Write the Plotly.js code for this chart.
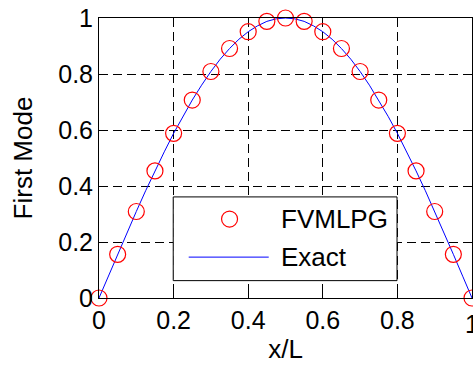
<!DOCTYPE html>
<html>
<head>
<meta charset="utf-8">
<script src="https://cdn.plot.ly/plotly-3.0.1.min.js"></script>
<style>html,body{margin:0;padding:0;background:#fff;}#chart{width:473px;height:367px;}</style>
</head>
<body>
<div id="chart"></div>
<script>
// FVMLPG markers
const xPts = [0, 0.05, 0.1, 0.15, 0.2, 0.25, 0.3, 0.35, 0.4, 0.45, 0.5, 0.55, 0.6, 0.65, 0.7, 0.75, 0.8, 0.85, 0.9, 0.95, 1];
const yPts = [0, 0.156, 0.309, 0.454, 0.588, 0.707, 0.809, 0.891, 0.951, 0.988, 1, 0.988, 0.951, 0.891, 0.809, 0.707, 0.588, 0.454, 0.309, 0.156, 0];
// Exact solution line
const xExact = [0, 0.025, 0.05, 0.075, 0.1, 0.125, 0.15, 0.175, 0.2, 0.225, 0.25, 0.275, 0.3, 0.325, 0.35, 0.375, 0.4, 0.425, 0.45, 0.475, 0.5,
                0.525, 0.55, 0.575, 0.6, 0.625, 0.65, 0.675, 0.7, 0.725, 0.75, 0.775, 0.8, 0.825, 0.85, 0.875, 0.9, 0.925, 0.95, 0.975, 1];
const yExact = [0, 0.078, 0.156, 0.233, 0.309, 0.383, 0.454, 0.522, 0.588, 0.649, 0.707, 0.760, 0.809, 0.853, 0.891, 0.924, 0.951, 0.972, 0.988, 0.997, 1,
                0.997, 0.988, 0.972, 0.951, 0.924, 0.891, 0.853, 0.809, 0.760, 0.707, 0.649, 0.588, 0.522, 0.454, 0.383, 0.309, 0.233, 0.156, 0.078, 0];
const tickVals = [0, 0.2, 0.4, 0.6, 0.8, 1];
const tickText = ['0', '0.2', '0.4', '0.6', '0.8', '1'];
const seriesNames = ['FVMLPG', 'Exact'];

const font = 'Liberation Sans, Arial, sans-serif';
const tickSize = 25;

const traces = [
  {x: xExact, y: yExact, mode: 'lines', name: seriesNames[1], line: {color: '#0000ff', width: 1}, showlegend: false},
  {x: xPts, y: yPts, mode: 'markers', name: seriesNames[0], marker: {symbol: 'circle-open', size: 16, color: '#ff0000', line: {width: 1.2, color: '#ff0000'}}, showlegend: false, cliponaxis: false}
];

const axisCommon = {
  range: [0, 1], tickvals: tickVals, ticktext: tickText,
  showgrid: true, gridcolor: '#000', gridwidth: 1, griddash: '9px,5px',
  showline: true, linecolor: '#000', linewidth: 1, mirror: 'ticks',
  ticks: 'inside', ticklen: 5, tickcolor: '#000',
  zeroline: false, tickfont: {family: font, size: tickSize, color: '#000'}
};

const layout = {
  width: 473, height: 367,
  margin: {l: 99, r: 1, t: 18, b: 69},
  paper_bgcolor: '#fff', plot_bgcolor: '#fff',
  showlegend: false,
  xaxis: Object.assign({}, axisCommon, {title: {text: 'x/L', font: {family: font, size: 26, color: '#000'}, standoff: 6}}),
  yaxis: Object.assign({}, axisCommon, {title: {text: 'First Mode', font: {family: font, size: 26, color: '#000'}, standoff: 18}}),
  shapes: [
    {type: 'rect', xref: 'x', yref: 'y', x0: 0.199, x1: 0.799, y0: 0.062, y1: 0.361, fillcolor: '#fff', line: {color: '#000', width: 1}, layer: 'above'},
    {type: 'line', xref: 'x', yref: 'y', x0: 0.2405, x1: 0.455, y0: 0.146, y1: 0.146, line: {color: '#0000ff', width: 1}, layer: 'above'},
    {type: 'circle', xref: 'x', yref: 'y', xsizemode: 'pixel', ysizemode: 'pixel', xanchor: 0.350, yanchor: 0.282, x0: -8, x1: 8, y0: -8, y1: 8, line: {color: '#ff0000', width: 1.2}, layer: 'above'}
  ],
  annotations: [
    {xref: 'x', yref: 'y', x: 0.4815, y: 0.282, text: seriesNames[0], showarrow: false, xanchor: 'left', yanchor: 'middle', font: {family: font, size: 26, color: '#000'}},
    {xref: 'x', yref: 'y', x: 0.4815, y: 0.146, text: seriesNames[1], showarrow: false, xanchor: 'left', yanchor: 'middle', font: {family: font, size: 26, color: '#000'}},
    // edge tick label that Plotly hides because it overflows the page
    {xref: 'x', yref: 'paper', x: tickVals[5], y: 0, yshift: -10, text: tickText[5], showarrow: false, xanchor: 'center', yanchor: 'top', font: {family: font, size: tickSize, color: '#000'}}
  ]
};

Plotly.newPlot('chart', traces, layout, {displayModeBar: false, staticPlot: true});
</script>
</body>
</html>
